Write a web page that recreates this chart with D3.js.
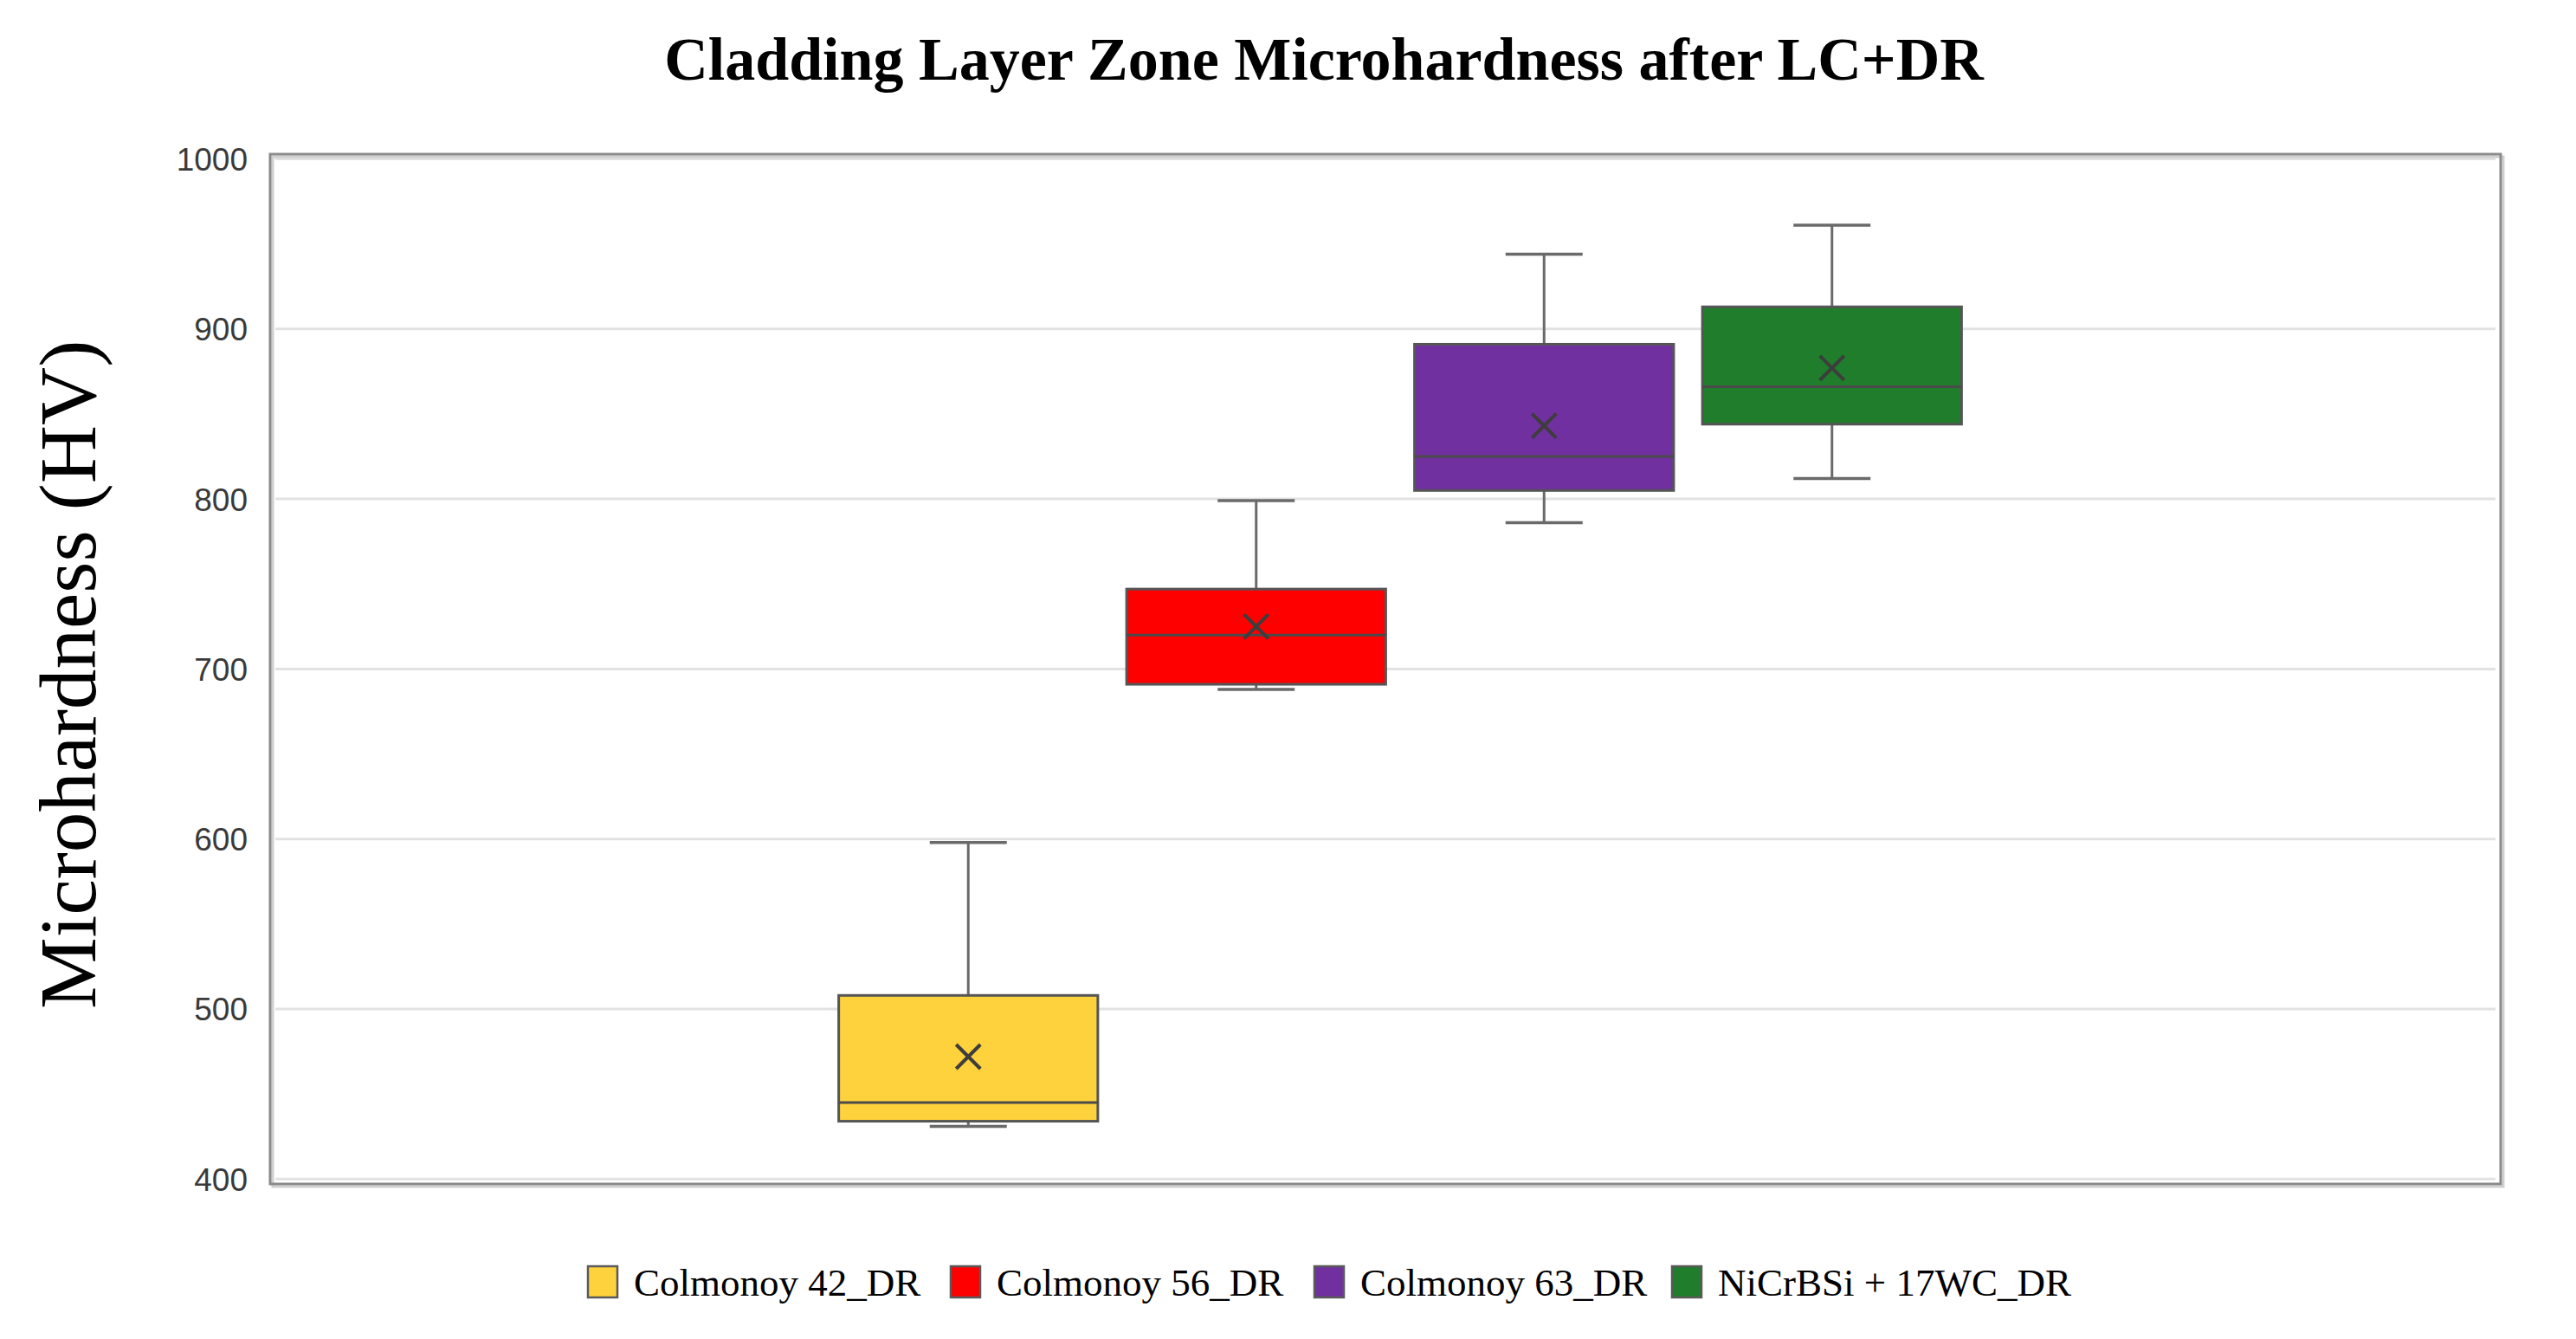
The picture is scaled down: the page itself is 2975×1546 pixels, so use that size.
<!DOCTYPE html>
<html>
<head>
<meta charset="utf-8">
<script src="https://cdn.jsdelivr.net/npm/d3@7"></script>
<style>
  html, body { margin: 0; padding: 0; background: #ffffff; }
  svg { display: block; }
</style>
</head>
<body>
<script>
// ---- data ----
const seriesNames = ["Colmonoy 42_DR", "Colmonoy 56_DR", "Colmonoy 63_DR", "NiCrBSi + 17WC_DR"];
const seriesColors = ["#FED23C", "#FF0000", "#7030A0", "#1F7D2C"];
const minValues    = [431, 688, 786, 812];
const q1Values     = [434, 691, 805, 844];
const medianValues = [445, 720, 825, 866];
const q3Values     = [508, 747, 891, 913];
const maxValues    = [598, 799, 944, 961];
const meanValues   = [472, 725, 843, 877];
const yTicks = [400, 500, 600, 700, 800, 900, 1000];
const chartTitle = "Cladding Layer Zone Microhardness after LC+DR";
const yTitle = "Microhardness (HV)";

// ---- layout ----
const W = 2975, H = 1546;
const frame = { left: 312, right: 2888, top: 178, bottom: 1367 };
const dataTop = 183.5, dataBottom = 1361.3;

const svg = d3.select("body").append("svg").attr("width", W).attr("height", H);
svg.append("rect").attr("width", W).attr("height", H).attr("fill", "#ffffff");

const y = d3.scaleLinear().domain([400, 1000]).range([dataBottom, dataTop]);
const x = d3.scaleBand().domain(seriesNames).range([952, 2282]).paddingInner(0.1).paddingOuter(0.05);

// gridlines
svg.append("g").selectAll("line").data(yTicks).join("line")
  .attr("x1", frame.left + 6).attr("x2", frame.right - 6)
  .attr("y1", d => y(d)).attr("y2", d => y(d))
  .attr("stroke", "#e2e2e2").attr("stroke-width", 3);

// frame with slight shadow
svg.append("rect")
  .attr("x", frame.left + 3).attr("y", frame.top + 3)
  .attr("width", frame.right - frame.left).attr("height", frame.bottom - frame.top)
  .attr("fill", "none").attr("stroke", "#d0d0d0").attr("stroke-width", 3);
svg.append("rect")
  .attr("x", frame.left).attr("y", frame.top)
  .attr("width", frame.right - frame.left).attr("height", frame.bottom - frame.top)
  .attr("fill", "none").attr("stroke", "#8a8a8a").attr("stroke-width", 3);

// y axis labels
const yAxis = d3.axisLeft(y).tickValues(yTicks).tickSize(0).tickPadding(0).tickFormat(d3.format("d"));
const ga = svg.append("g").attr("transform", `translate(${frame.left - 26},0)`).call(yAxis);
ga.select(".domain").remove();
ga.selectAll("text")
  .attr("font-family", "'Liberation Sans', Arial, sans-serif")
  .attr("font-size", 37).attr("fill", "#3a3a3a").attr("dy", "0.35em");

// boxes
const boxes = svg.append("g").selectAll("g").data(seriesNames).join("g");
const cx = d => x(d) + x.bandwidth() / 2;
const capW = 89;

// whiskers
boxes.append("line")
  .attr("x1", cx).attr("x2", cx)
  .attr("y1", (d, i) => y(maxValues[i])).attr("y2", (d, i) => y(q3Values[i]))
  .attr("stroke", "#6a6a6a").attr("stroke-width", 3);
boxes.append("line")
  .attr("x1", cx).attr("x2", cx)
  .attr("y1", (d, i) => y(minValues[i])).attr("y2", (d, i) => y(q1Values[i]))
  .attr("stroke", "#6a6a6a").attr("stroke-width", 3);
boxes.append("line")
  .attr("x1", d => cx(d) - capW / 2).attr("x2", d => cx(d) + capW / 2)
  .attr("y1", (d, i) => y(maxValues[i])).attr("y2", (d, i) => y(maxValues[i]))
  .attr("stroke", "#6a6a6a").attr("stroke-width", 3.5);
boxes.append("line")
  .attr("x1", d => cx(d) - capW / 2).attr("x2", d => cx(d) + capW / 2)
  .attr("y1", (d, i) => y(minValues[i])).attr("y2", (d, i) => y(minValues[i]))
  .attr("stroke", "#6a6a6a").attr("stroke-width", 3.5);

// box
boxes.append("rect")
  .attr("x", d => x(d)).attr("width", x.bandwidth())
  .attr("y", (d, i) => y(q3Values[i]))
  .attr("height", (d, i) => y(q1Values[i]) - y(q3Values[i]))
  .attr("fill", (d, i) => seriesColors[i])
  .attr("stroke", "#555555").attr("stroke-width", 3);

// median
boxes.append("line")
  .attr("x1", d => x(d)).attr("x2", d => x(d) + x.bandwidth())
  .attr("y1", (d, i) => y(medianValues[i])).attr("y2", (d, i) => y(medianValues[i]))
  .attr("stroke", "#4a4a4a").attr("stroke-width", 3);

// mean X marker
const ms = 14;
boxes.append("path")
  .attr("d", (d, i) => {
    const px = cx(d), py = y(meanValues[i]);
    return `M${px - ms},${py - ms}L${px + ms},${py + ms}M${px - ms},${py + ms}L${px + ms},${py - ms}`;
  })
  .attr("stroke", "#3d3d3d").attr("stroke-width", 4).attr("fill", "none");

// title
svg.append("text")
  .attr("x", 1529).attr("y", 92)
  .attr("text-anchor", "middle")
  .attr("font-family", "'Liberation Serif', 'Times New Roman', serif")
  .attr("font-weight", "bold").attr("font-size", 70).attr("fill", "#000")
  .text(chartTitle);

// y title
svg.append("text")
  .attr("transform", "translate(110,779) rotate(-90)")
  .attr("text-anchor", "middle")
  .attr("font-family", "'Liberation Serif', 'Times New Roman', serif")
  .attr("font-size", 93).attr("fill", "#000")
  .text(yTitle);

// legend
const legendX = [679, 1098, 1518, 1931];
const legend = svg.append("g").selectAll("g").data(seriesNames).join("g")
  .attr("transform", (d, i) => `translate(${legendX[i]},1480)`);
legend.append("rect")
  .attr("x", 0).attr("y", -18).attr("width", 34).attr("height", 36)
  .attr("fill", (d, i) => seriesColors[i]).attr("stroke", "#5a5a5a").attr("stroke-width", 2.5);
legend.append("text")
  .attr("x", 53).attr("y", 16)
  .attr("font-family", "'Liberation Serif', 'Times New Roman', serif")
  .attr("font-size", 45).attr("fill", "#000")
  .text(d => d);
</script>
</body>
</html>
